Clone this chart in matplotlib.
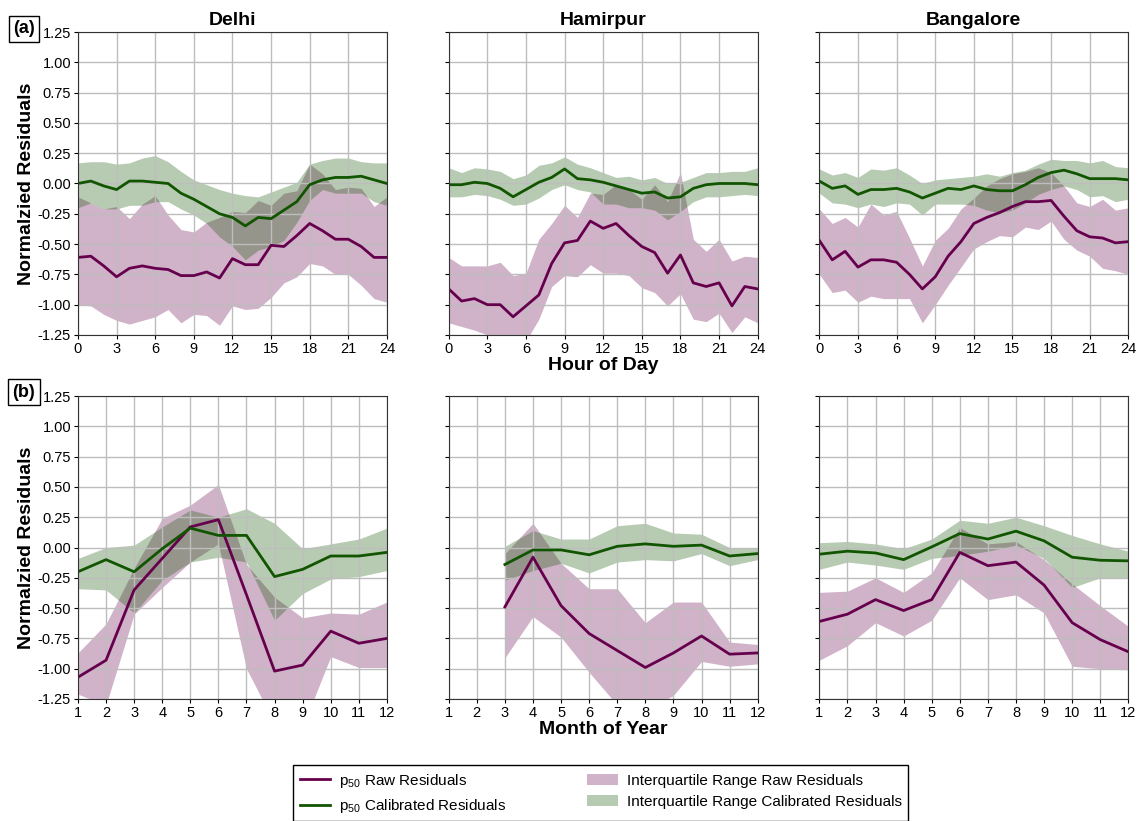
import numpy as np
import matplotlib
matplotlib.use("Agg")
import matplotlib.pyplot as plt
from matplotlib.lines import Line2D
from matplotlib.patches import Patch

plt.rcParams['font.family'] = ['Liberation Sans', 'DejaVu Sans']
plt.rcParams['mathtext.default'] = 'regular'
plt.rcParams['axes.unicode_minus'] = False

cities = ['Delhi', 'Hamirpur', 'Bangalore']
hours = list(range(25))
months = list(range(1, 13))
nan = np.nan

# ---- hour of day: p50 and interquartile range (raw / calibrated) ----
hour_raw_med = {
    'Delhi': [-0.61, -0.60, -0.68, -0.77, -0.70, -0.68, -0.70, -0.71, -0.76, -0.76, -0.73, -0.78, -0.62,
              -0.67, -0.67, -0.51, -0.52, -0.43, -0.33, -0.39, -0.46, -0.46, -0.52, -0.61, -0.61],
    'Hamirpur': [-0.87, -0.97, -0.95, -1.00, -1.00, -1.10, -1.01, -0.92, -0.66, -0.49, -0.47, -0.31, -0.37,
                 -0.33, -0.43, -0.52, -0.57, -0.74, -0.59, -0.82, -0.85, -0.82, -1.01, -0.85, -0.87],
    'Bangalore': [-0.47, -0.63, -0.56, -0.69, -0.63, -0.63, -0.65, -0.75, -0.87, -0.77, -0.60, -0.48, -0.33,
                  -0.28, -0.24, -0.19, -0.15, -0.15, -0.14, -0.27, -0.39, -0.44, -0.45, -0.49, -0.48],
}
hour_raw_hi = {
    'Delhi': [-0.11, -0.16, -0.21, -0.19, -0.29, -0.17, -0.10, -0.26, -0.38, -0.40, -0.32, -0.28, -0.23,
              -0.24, -0.14, -0.18, -0.08, -0.06, 0.16, 0.08, -0.05, -0.03, -0.04, -0.19, -0.11],
    'Hamirpur': [-0.61, -0.68, -0.68, -0.68, -0.65, -0.76, -0.74, -0.46, -0.33, -0.18, -0.28, -0.08, -0.09,
                 -0.01, -0.05, -0.13, -0.01, -0.15, 0.09, -0.46, -0.56, -0.46, -0.64, -0.60, -0.61],
    'Bangalore': [-0.21, -0.33, -0.28, -0.36, -0.17, -0.26, -0.23, -0.45, -0.68, -0.47, -0.37, -0.21, -0.12,
                  -0.02, 0.04, 0.08, 0.10, 0.13, 0.09, -0.02, -0.16, -0.19, -0.13, -0.22, -0.20],
}
hour_raw_lo = {
    'Delhi': [-1.00, -1.01, -1.08, -1.13, -1.16, -1.13, -1.10, -1.04, -1.15, -1.08, -1.09, -1.17, -1.01,
              -1.04, -1.03, -0.94, -0.82, -0.77, -0.66, -0.68, -0.75, -0.75, -0.84, -0.95, -0.98],
    'Hamirpur': [-1.15, -1.18, -1.21, -1.25, -1.32, -1.38, -1.30, -1.12, -0.85, -0.76, -0.77, -0.67, -0.74,
                 -0.74, -0.76, -0.86, -0.90, -1.01, -0.91, -1.12, -1.14, -1.07, -1.23, -1.10, -1.15],
    'Bangalore': [-0.75, -0.90, -0.88, -0.98, -0.93, -0.95, -0.95, -0.95, -1.15, -1.00, -0.84, -0.69, -0.54,
                  -0.48, -0.43, -0.44, -0.36, -0.38, -0.31, -0.46, -0.55, -0.60, -0.70, -0.72, -0.75],
}
hour_cal_med = {
    'Delhi': [0.00, 0.02, -0.02, -0.05, 0.02, 0.02, 0.01, 0.00, -0.08, -0.13, -0.19, -0.25, -0.28,
              -0.35, -0.28, -0.29, -0.22, -0.15, -0.01, 0.03, 0.05, 0.05, 0.06, 0.03, 0.00],
    'Hamirpur': [-0.01, -0.01, 0.01, 0.00, -0.04, -0.11, -0.05, 0.01, 0.05, 0.12, 0.04, 0.03, 0.01,
                 -0.02, -0.05, -0.08, -0.07, -0.12, -0.11, -0.04, -0.01, 0.00, 0.00, 0.00, -0.01],
    'Bangalore': [0.02, -0.04, -0.02, -0.09, -0.05, -0.05, -0.04, -0.07, -0.12, -0.08, -0.04, -0.05, -0.02,
                  -0.05, -0.06, -0.06, -0.01, 0.05, 0.09, 0.11, 0.08, 0.04, 0.04, 0.04, 0.03],
}
hour_cal_hi = {
    'Delhi': [0.17, 0.18, 0.18, 0.16, 0.17, 0.21, 0.23, 0.18, 0.10, 0.03, -0.01, -0.05, -0.08,
              -0.10, -0.11, -0.07, -0.03, 0.01, 0.16, 0.19, 0.21, 0.21, 0.18, 0.17, 0.17],
    'Hamirpur': [0.13, 0.09, 0.13, 0.12, 0.10, 0.04, 0.07, 0.15, 0.17, 0.22, 0.16, 0.13, 0.09,
                 0.05, 0.06, 0.03, 0.05, 0.00, 0.01, 0.05, 0.09, 0.09, 0.10, 0.10, 0.13],
    'Bangalore': [0.12, 0.07, 0.09, 0.05, 0.12, 0.11, 0.13, 0.07, 0.00, 0.03, 0.04, 0.05, 0.06,
                  0.08, 0.06, 0.09, 0.11, 0.16, 0.20, 0.19, 0.19, 0.17, 0.19, 0.14, 0.13],
}
hour_cal_lo = {
    'Delhi': [-0.20, -0.16, -0.21, -0.21, -0.18, -0.18, -0.15, -0.15, -0.21, -0.26, -0.33, -0.44, -0.52,
              -0.63, -0.55, -0.52, -0.47, -0.32, -0.14, -0.05, -0.08, -0.08, -0.08, -0.15, -0.18],
    'Hamirpur': [-0.11, -0.11, -0.09, -0.10, -0.13, -0.18, -0.17, -0.12, -0.05, -0.01, -0.05, -0.07, -0.17,
                 -0.17, -0.20, -0.20, -0.22, -0.30, -0.23, -0.15, -0.11, -0.11, -0.10, -0.09, -0.10],
    'Bangalore': [-0.08, -0.16, -0.17, -0.20, -0.17, -0.19, -0.16, -0.17, -0.26, -0.17, -0.17, -0.17, -0.18,
                  -0.22, -0.24, -0.22, -0.16, -0.09, -0.05, -0.02, -0.05, -0.11, -0.10, -0.15, -0.13],
}

# ---- month of year ----
month_raw_med = {
    'Delhi': [-1.07, -0.93, -0.35, -0.09, 0.17, 0.23, -0.39, -1.02, -0.97, -0.69, -0.79, -0.75],
    'Hamirpur': [nan, nan, -0.49, -0.08, -0.48, -0.71, -0.85, -0.99, -0.87, -0.73, -0.88, -0.87],
    'Bangalore': [-0.61, -0.55, -0.43, -0.52, -0.43, -0.04, -0.15, -0.12, -0.31, -0.62, -0.76, -0.86],
}
month_raw_hi = {
    'Delhi': [-0.87, -0.63, -0.17, 0.24, 0.35, 0.52, -0.14, -0.41, -0.58, -0.54, -0.55, -0.45],
    'Hamirpur': [nan, nan, -0.05, 0.20, -0.13, -0.34, -0.34, -0.62, -0.45, -0.45, -0.78, -0.80],
    'Bangalore': [-0.37, -0.36, -0.25, -0.37, -0.21, 0.165, 0.03, 0.05, -0.10, -0.30, -0.48, -0.65],
}
month_raw_lo = {
    'Delhi': [-1.21, -1.30, -0.55, -0.33, -0.12, 0.03, -1.00, -1.45, -1.48, -0.90, -0.99, -0.99],
    'Hamirpur': [nan, nan, -0.91, -0.57, -0.74, -1.03, -1.30, -1.35, -1.22, -0.94, -0.98, -0.96],
    'Bangalore': [-0.93, -0.81, -0.62, -0.73, -0.60, -0.25, -0.43, -0.39, -0.54, -0.98, -1.00, -1.01],
}
month_cal_med = {
    'Delhi': [-0.20, -0.10, -0.20, -0.01, 0.16, 0.10, 0.10, -0.24, -0.18, -0.07, -0.07, -0.04],
    'Hamirpur': [nan, nan, -0.14, -0.02, -0.02, -0.06, 0.01, 0.03, 0.01, 0.02, -0.07, -0.05],
    'Bangalore': [-0.055, -0.03, -0.045, -0.10, 0.005, 0.115, 0.07, 0.135, 0.055, -0.08, -0.105, -0.11],
}
month_cal_hi = {
    'Delhi': [-0.09, 0.00, 0.02, 0.17, 0.31, 0.25, 0.32, 0.20, -0.01, 0.03, 0.07, 0.16],
    'Hamirpur': [nan, nan, 0.01, 0.14, 0.07, 0.07, 0.18, 0.20, 0.12, 0.11, 0.00, 0.00],
    'Bangalore': [0.04, 0.05, 0.03, -0.01, 0.07, 0.225, 0.20, 0.25, 0.18, 0.10, 0.03, -0.03],
}
month_cal_lo = {
    'Delhi': [-0.34, -0.35, -0.54, -0.27, -0.12, -0.08, -0.12, -0.60, -0.38, -0.26, -0.24, -0.19],
    'Hamirpur': [nan, nan, -0.27, -0.19, -0.13, -0.21, -0.12, -0.10, -0.11, -0.05, -0.15, -0.10],
    'Bangalore': [-0.18, -0.12, -0.145, -0.18, -0.09, -0.065, -0.03, 0.02, -0.09, -0.33, -0.25, -0.25],
}

raw_color = '#66004d'
cal_color = '#115500'
yticks = np.arange(-1.25, 1.26, 0.25)

fig = plt.figure(figsize=(11.38, 8.21), dpi=100)
lefts = [0.0685, 0.3943, 0.720]
bottoms = [0.592, 0.1486]
w, h = 0.2715, 0.369

rows = [
    (hours, hour_raw_med, hour_raw_lo, hour_raw_hi, hour_cal_med, hour_cal_lo, hour_cal_hi,
     list(range(0, 25, 3)), (0, 24), 'Hour of Day'),
    (months, month_raw_med, month_raw_lo, month_raw_hi, month_cal_med, month_cal_lo, month_cal_hi,
     months, (1, 12), 'Month of Year'),
]

for r, (x, rmed, rlo, rhi, cmed, clo, chi, xt, xlim, xlab) in enumerate(rows):
    for c, city in enumerate(cities):
        ax = fig.add_axes([lefts[c], bottoms[r], w, h])
        ax.fill_between(x, rlo[city], rhi[city], color=raw_color, alpha=0.3, linewidth=0)
        ax.fill_between(x, clo[city], chi[city], color=cal_color, alpha=0.3, linewidth=0)
        ax.plot(x, rmed[city], color=raw_color, lw=2)
        ax.plot(x, cmed[city], color=cal_color, lw=2)
        ax.set_xlim(*xlim)
        ax.set_ylim(-1.25, 1.25)
        ax.set_xticks(xt)
        ax.set_yticks(yticks)
        ax.grid(True, color='#bdbdbd', lw=1)
        ax.tick_params(labelsize=10.5, length=3, pad=2)
        for s in ax.spines.values():
            s.set_color('#333333')
        if c == 0:
            ax.set_yticklabels(['%.2f' % v for v in yticks])
            ax.set_ylabel('Normalzied Residuals', fontsize=14, fontweight='bold', labelpad=2)
        else:
            ax.set_yticklabels([])
        if r == 0:
            ax.set_title(city, fontsize=14, fontweight='bold', pad=5)
        if c == 1:
            ax.set_xlabel(xlab, fontsize=14, fontweight='bold', labelpad=1)

box = dict(facecolor='white', edgecolor='black', boxstyle='square,pad=0.25', lw=1)
fig.text(0.021, 0.9647, '(a)', fontsize=13, fontweight='bold', ha='center', va='center', bbox=box)
fig.text(0.021, 0.5225, '(b)', fontsize=13, fontweight='bold', ha='center', va='center', bbox=box)

handles = [
    Line2D([], [], color=raw_color, lw=2),
    Line2D([], [], color=cal_color, lw=2),
    Patch(facecolor=raw_color, alpha=0.3, linewidth=0),
    Patch(facecolor=cal_color, alpha=0.3, linewidth=0),
]
labels = ['p$_{50}$ Raw Residuals', 'p$_{50}$ Calibrated Residuals',
          'Interquartile Range Raw Residuals', 'Interquartile Range Calibrated Residuals']
leg = fig.legend(handles, labels, loc='upper center', bbox_to_anchor=(0.528, 0.077), ncol=2,
                 fontsize=11, frameon=True, fancybox=False, edgecolor='black', framealpha=1,
                 handletextpad=0.6, columnspacing=5.3)
leg.get_frame().set_linewidth(1)

fig.savefig('out.png', dpi=100)
